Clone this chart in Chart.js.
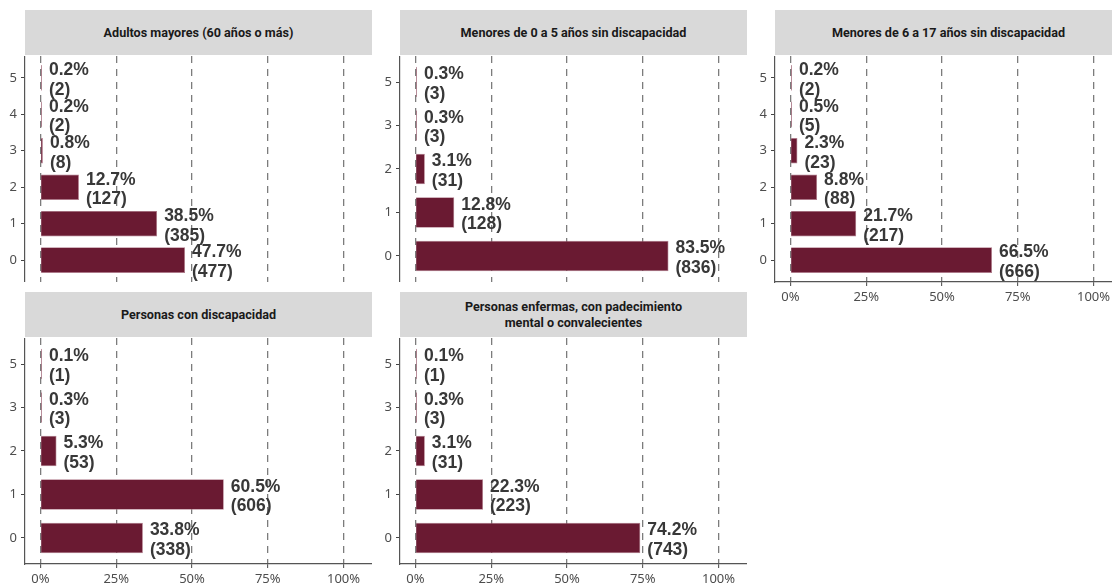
<!DOCTYPE html>
<html>
<head>
<meta charset="utf-8">
<script src="https://cdn.jsdelivr.net/npm/chart.js@4.4.0/dist/chart.umd.min.js"></script>
<style>
    html, body { margin: 0; padding: 0; background: #fff; }
    #page { position: relative; width: 1112px; height: 584px; overflow: hidden; }
    .panel { position: absolute; }
    .strip {
        position: absolute; background: #d9d9d9; color: #1a1a1a;
        font-family: Roboto, sans-serif; font-weight: 700; font-size: 12.6px; line-height: 15.5px;
        display: flex; align-items: center; justify-content: center; text-align: center;
    }
</style>
</head>
<body>
<div id="page"></div>
<script>
// data per panel
const titles = [
    "Adultos mayores (60 años o más)",
    "Menores de 0 a 5 años sin discapacidad",
    "Menores de 6 a 17 años sin discapacidad",
    "Personas con discapacidad",
    "Personas enfermas, con padecimiento<br>mental o convalecientes"
];

const cats1 = ["0", "1", "2", "3", "4", "5"];
const pct1 = [47.7, 38.5, 12.7, 0.8, 0.2, 0.2];
const n1 = [477, 385, 127, 8, 2, 2];

const cats2 = ["0", "1", "2", "3", "5"];
const pct2 = [83.5, 12.8, 3.1, 0.3, 0.3];
const n2 = [836, 128, 31, 3, 3];

const cats3 = ["0", "1", "2", "3", "4", "5"];
const pct3 = [66.5, 21.7, 8.8, 2.3, 0.5, 0.2];
const n3 = [666, 217, 88, 23, 5, 2];

const cats4 = ["0", "1", "2", "3", "5"];
const pct4 = [33.8, 60.5, 5.3, 0.3, 0.1];
const n4 = [338, 606, 53, 3, 1];

const cats5 = ["0", "1", "2", "3", "5"];
const pct5 = [74.2, 22.3, 3.1, 0.3, 0.1];
const n5 = [743, 223, 31, 3, 1];

const xTicks = [0, 25, 50, 75, 100];

const barColor = '#6a1a32';

// layout of the facets
const panels = [
    {cats: cats1, pct: pct1, n: n1, left: 0,   top: 56,  xAxis: false, stripTop: 10},
    {cats: cats2, pct: pct2, n: n2, left: 375, top: 56,  xAxis: false, stripTop: 10},
    {cats: cats3, pct: pct3, n: n3, left: 750, top: 56,  xAxis: true,  stripTop: 10},
    {cats: cats4, pct: pct4, n: n4, left: 0,   top: 338, xAxis: true,  stripTop: 292},
    {cats: cats5, pct: pct5, n: n5, left: 375, top: 338, xAxis: true,  stripTop: 292}
];

const yAxisW = 25, plotW = 347, plotH = 226, xAxisH = 28;

const barLabels = {
    id: 'barLabels',
    afterDatasetsDraw(chart) {
        const ctx = chart.ctx;
        const meta = chart.getDatasetMeta(0);
        const ds = chart.data.datasets[0];
        ctx.save();
        ctx.font = 'bold 17.5px "Liberation Sans", Arial, sans-serif';
        ctx.fillStyle = '#383838';
        ctx.textAlign = 'left';
        ctx.textBaseline = 'middle';
        meta.data.forEach((bar, i) => {
            const x = bar.x + 7;
            ctx.fillText(ds.data[i].x.toFixed(1) + '%', x, bar.y - 7.5);
            ctx.fillText('(' + ds.counts[i] + ')', x, bar.y + 12);
        });
        ctx.restore();
    }
};

function noPad(s) {
    s.paddingTop = 0; s.paddingBottom = 0; s.paddingLeft = 0; s.paddingRight = 0;
}

function createPanel(page, p, title) {
    const wrap = document.createElement('div');
    wrap.className = 'panel';
    wrap.style.left = p.left + 'px';
    wrap.style.top = p.top + 'px';
    wrap.style.width = (yAxisW + plotW) + 'px';
    wrap.style.height = (plotH + (p.xAxis ? xAxisH : 0)) + 'px';
    const canvas = document.createElement('canvas');
    wrap.appendChild(canvas);
    page.appendChild(wrap);

    const strip = document.createElement('div');
    strip.className = 'strip';
    strip.style.left = (p.left + yAxisW) + 'px';
    strip.style.top = p.stripTop + 'px';
    strip.style.width = plotW + 'px';
    strip.style.height = (p.top - p.stripTop - 1) + 'px';
    strip.innerHTML = title;
    page.appendChild(strip);

    new Chart(canvas.getContext('2d'), {
        type: 'bar',
        data: {
            datasets: [{
                data: p.pct.map((v, i) => ({x: v, y: i})),
                counts: p.n,
                backgroundColor: barColor,
                borderColor: '#b07a8a',
                borderWidth: 0.7,
                minBarLength: 1.5,
                categoryPercentage: 1,
                barPercentage: 0.7
            }]
        },
        options: {
            indexAxis: 'y',
            responsive: true,
            maintainAspectRatio: false,
            animation: false,
            layout: {padding: 0},
            plugins: {legend: {display: false}, tooltip: {enabled: false}},
            scales: {
                x: {
                    type: 'linear',
                    min: -5.1,
                    max: 109.4,
                    offset: false,
                    afterBuildTicks: s => { s.ticks = xTicks.map(v => ({value: v})); },
                    afterFit: s => { s.height = p.xAxis ? xAxisH : 0; noPad(s); },
                    grid: {
                        offset: false,
                        color: '#7c7c7c',
                        lineWidth: 1.3,
                        drawTicks: p.xAxis,
                        tickLength: 4,
                        tickColor: '#444',
                        tickWidth: 1,
                        tickBorderDash: []
                    },
                    border: {display: p.xAxis, color: '#555', width: 1.2, dash: [7, 6]},
                    ticks: {
                        display: p.xAxis,
                        autoSkip: false,
                        maxRotation: 0,
                        padding: 3,
                        color: '#4d4d4d',
                        font: {family: '"Noto Sans", sans-serif', size: 13},
                        callback: v => v + '%'
                    }
                },
                y: {
                    type: 'linear',
                    min: -0.6,
                    max: p.cats.length - 1 + 0.6,
                    offset: false,
                    afterBuildTicks: s => { s.ticks = p.cats.map((c, i) => ({value: i})); },
                    afterFit: s => { s.width = yAxisW; noPad(s); },
                    grid: {
                        offset: false,
                        drawOnChartArea: false,
                        tickLength: 4,
                        tickColor: '#444',
                        tickWidth: 1
                    },
                    border: {display: true, color: '#555', width: 1.2},
                    ticks: {
                        autoSkip: false,
                        padding: 4,
                        color: '#4d4d4d',
                        font: {family: '"Noto Sans", sans-serif', size: 13},
                        callback: v => p.cats[v]
                    }
                }
            }
        },
        plugins: [barLabels]
    });
}

document.addEventListener('DOMContentLoaded', e => {
    const page = document.getElementById('page');
    panels.forEach((p, i) => createPanel(page, p, titles[i]));
});
</script>
</body>
</html>
